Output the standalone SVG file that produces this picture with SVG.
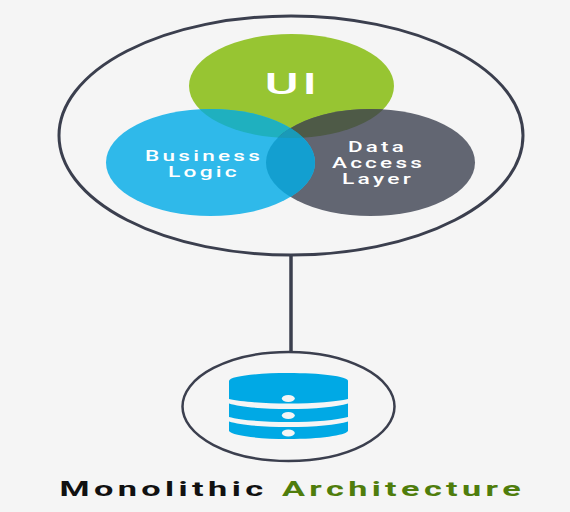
<svg xmlns="http://www.w3.org/2000/svg" width="570" height="512" viewBox="0 0 570 512">
<style>
.ring{fill:none;stroke:#3b3f4e}
.w{fill:#fff;font-family:Roboto,"Liberation Sans",sans-serif;font-weight:500;font-size:14px;letter-spacing:2px}
.cap{font-family:Roboto,"Liberation Sans",sans-serif;font-weight:700;font-size:19.500px;letter-spacing:2.500px}
.db{fill:#00a9e5}
.dot{fill:#f5f5f5}
</style>
<defs>
<clipPath id="cu"><ellipse cx="291.5" cy="86" rx="102.5" ry="52"/></clipPath>
<clipPath id="cb"><ellipse cx="210.5" cy="162.5" rx="104.5" ry="53.5"/></clipPath>
<clipPath id="cd"><ellipse cx="370.5" cy="162.5" rx="104.5" ry="53.5"/></clipPath>
</defs>
<rect width="570" height="512" fill="#f5f5f5"/>
<g id="connectors"><line x1="291" y1="255" x2="291" y2="353" stroke="#3b3f4e" stroke-width="3.5"/></g>
<g id="monolith"><ellipse class="ring" cx="291" cy="135.5" rx="232" ry="119.5" stroke-width="3"/></g>
<g id="ui">
<ellipse cx="291.5" cy="86" rx="102.5" ry="52" fill="#97c532"/>
</g>
<g id="data-access-layer">
<ellipse cx="370.5" cy="162.5" rx="104.5" ry="53.5" fill="#626672"/>
</g>
<g id="business-logic">
<ellipse cx="210.5" cy="162.5" rx="104.5" ry="53.5" fill="#2fb9ea"/>
</g>
<g id="overlaps">
<g clip-path="url(#cu)"><ellipse cx="210.5" cy="162.5" rx="104.5" ry="53.5" fill="#1fb0bf"/><ellipse cx="370.5" cy="162.5" rx="104.5" ry="53.5" fill="#4e5a47"/></g>
<g clip-path="url(#cb)"><ellipse cx="370.5" cy="162.5" rx="104.5" ry="53.5" fill="#139fd0"/></g>
<g clip-path="url(#cb)"><g clip-path="url(#cd)"><ellipse cx="291.5" cy="86" rx="102.5" ry="52" fill="#1a9ab8"/></g></g>
</g>
<g id="labels">
<text class="w" x="264.500" y="94" style="font-size:30px;letter-spacing:2px;font-weight:500" textLength="56" lengthAdjust="spacingAndGlyphs">UI</text>
<text class="w" x="145" y="160.500" textLength="118" lengthAdjust="spacingAndGlyphs">Business</text>
<text class="w" x="168" y="176.500" textLength="72" lengthAdjust="spacingAndGlyphs">Logic</text>
<text class="w" x="348" y="152" textLength="59" lengthAdjust="spacingAndGlyphs">Data</text>
<text class="w" x="332" y="168" textLength="93" lengthAdjust="spacingAndGlyphs">Access</text>
<text class="w" x="342" y="184" textLength="72" lengthAdjust="spacingAndGlyphs">Layer</text>
</g>
<g id="database">
<ellipse class="ring" cx="288.5" cy="406.5" rx="106" ry="54.5" stroke-width="2.5"/>
<path class="db" d="M229 381C229 376 258 373 288.5 373S348 376 348 381V399C337 401.500 315 403.500 288.500 403.500S240 401.500 229 399Z"/>
<path class="db" d="M229 403.500C240 407 262 409 288.500 409S337 407 348 403.500V417C337 420 315 422 288.500 422S240 420 229 417Z"/>
<path class="db" d="M229 421.500C240 425 262 427 288.500 427S337 425 348 421.500V431C345 435.500 320 439 288.500 439S232 435.500 229 431Z"/>
<ellipse class="dot" cx="288.300" cy="398.500" rx="6.500" ry="3.500"/>
<ellipse class="dot" cx="288.300" cy="415.500" rx="6.500" ry="3.500"/>
<ellipse class="dot" cx="288.300" cy="433" rx="6.500" ry="3.500"/>
</g>
<g id="title">
<text class="cap" x="59.500" y="496" fill="#111" textLength="208" lengthAdjust="spacingAndGlyphs">Monolithic</text>
<text class="cap" x="282" y="496" fill="#4f7d0c" textLength="243" lengthAdjust="spacingAndGlyphs">Architecture</text>
</g>
</svg>
